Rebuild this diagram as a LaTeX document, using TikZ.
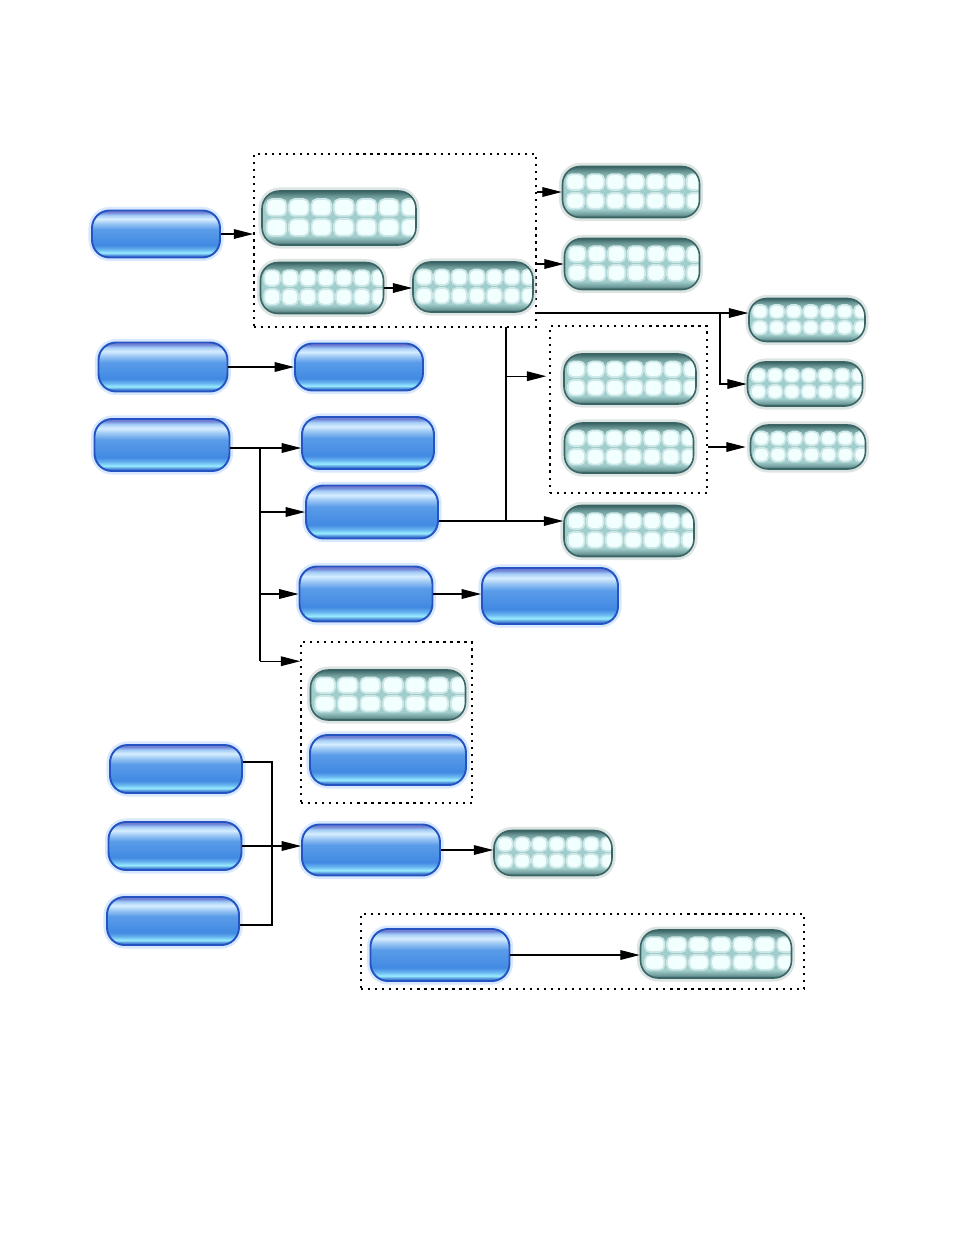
\documentclass[tikz,border=0pt]{standalone}
\usepackage{tikz}
\usetikzlibrary{arrows.meta,positioning,calc}
\definecolor{bpEdge}{HTML}{2454C2}
\definecolor{bpLow}{HTML}{4189E2}
\definecolor{bpCyan}{HTML}{98ECFF}
\definecolor{bpMid}{HTML}{5A9CE9}
\definecolor{bpHigh}{HTML}{D6EDFF}
\definecolor{bpRim}{HTML}{7D76CC}
\definecolor{bpGlow}{HTML}{A8CCFF}
\definecolor{tpEdge}{HTML}{3B6464}
\definecolor{tpDark}{HTML}{6F9B9B}
\definecolor{tpFill}{HTML}{A2CDCD}
\definecolor{tpCell}{HTML}{F2FFFF}
\definecolor{tpGlow}{HTML}{B9C9C9}
\pgfdeclareverticalshading{bluepill}{100bp}{color(0bp)=(bpEdge); color(25bp)=(bpEdge);
  color(27.5bp)=(bpEdge!60!bpCyan); color(30bp)=(bpCyan); color(34bp)=(bpCyan!40!bpLow); color(38bp)=(bpLow);
  color(55bp)=(bpMid); color(61bp)=(bpMid!50!bpHigh); color(66bp)=(bpHigh); color(70bp)=(bpHigh!60!bpMid);
  color(73bp)=(bpRim!60!bpMid); color(75bp)=(bpRim); color(100bp)=(bpRim)}
\pgfdeclareverticalshading{tealpill}{100bp}{color(0bp)=(tpEdge); color(25bp)=(tpEdge);
  color(28bp)=(tpDark); color(33bp)=(tpFill); color(62bp)=(tpFill); color(70bp)=(tpDark); color(75bp)=(tpEdge); color(100bp)=(tpEdge)}
\tikzset{
  wh/.style 2 args={minimum width=#1*0.02cm, minimum height=#2*0.02cm},
  bluepill/.style={rounded corners=10pt, shade, shading=bluepill, draw=bpEdge, line width=1.1pt,
    preaction={draw=bpGlow, line width=4pt, opacity=.45}},
  tealpill/.style={rounded corners=10pt, shade, shading=tealpill, draw=tpEdge, line width=.9pt,
    preaction={draw=tpGlow, line width=4pt, opacity=.5},
    path picture={
      \foreach \i in {0,...,6}
        \foreach \j in {0,1}
          \fill[tpCell, draw=tpCell!55!tpFill, line width=1pt, rounded corners=3pt]
            let \p1=(path picture bounding box.south west),
                \p2=(path picture bounding box.north east),
                \n1={\x2-\x1}, \n2={\y2-\y1} in
            ({\x1+(0.03+0.146*\i)*\n1*1pt}, {\y2-(0.15+0.37*\j)*\n2*1pt})
            rectangle ({\x1+(0.158+0.146*\i)*\n1*1pt}, {\y2-(0.46+0.37*\j)*\n2*1pt});
    }},
  groupbox/.style={draw, line width=.9pt, dash pattern=on 1.3pt off 2.7pt, inner sep=0pt},
  conn/.style={-{Triangle[length=11pt,width=5.5pt]}, line width=.6pt},
  wire/.style={line width=.6pt},
}
\begin{document}
\begin{tikzpicture}[x=0.02cm, y=-0.02cm]
  \useasboundingbox (0,0) rectangle (954,1235);

  % dotted groups
  \node[groupbox, wh={282}{173}] (d1) at (395,240.5) {};
  \node[groupbox, wh={157}{167}] (d2) at (628.5,409.5) {};
  \node[groupbox, wh={171}{161}] (d3) at (386.5,722.5) {};
  \node[groupbox, wh={443}{75}] (d4) at (582.5,951.5) {};

  % blue pills
  \node[bluepill, wh={128}{47}] (b1) at (156,234) {};
  \node[bluepill, wh={129}{49}] (b2) at (163,367) {};
  \node[bluepill, wh={135}{52}] (b3) at (162,445) {};
  \node[bluepill, wh={128}{47}] (b4) at (359,367) {};
  \node[bluepill, wh={132}{52}] (b5) at (368,443) {};
  \node[bluepill, wh={132}{53}] (b6) at (372,512) {};
  \node[bluepill, wh={133}{55}] (b7) at (366,594) {};
  \node[bluepill, wh={136}{56}] (b8) at (550,596) {};
  \node[bluepill, wh={156}{50}] (b9) at (388,760) {};
  \node[bluepill, wh={132}{48}] (b10) at (176,769) {};
  \node[bluepill, wh={133}{48}] (b11) at (175,846) {};
  \node[bluepill, wh={132}{48}] (b12) at (173,921) {};
  \node[bluepill, wh={138}{51}] (b13) at (371,850) {};
  \node[bluepill, wh={139}{52}] (b14) at (440,955) {};

  % teal pills
  \node[tealpill, wh={154}{54}] (t1) at (339,218) {};
  \node[tealpill, wh={123}{51}] (t2) at (322,288) {};
  \node[tealpill, wh={120}{50}] (t3) at (473,287) {};
  \node[tealpill, wh={137}{51}] (t4) at (631,192) {};
  \node[tealpill, wh={135}{51}] (t5) at (632,264) {};
  \node[tealpill, wh={116}{43}] (t6) at (807,320) {};
  \node[tealpill, wh={115}{44}] (t7) at (805,384) {};
  \node[tealpill, wh={115}{44}] (t8) at (808,447) {};
  \node[tealpill, wh={132}{50}] (t9) at (630,379) {};
  \node[tealpill, wh={129}{50}] (t10) at (629,448) {};
  \node[tealpill, wh={130}{51}] (t11) at (629,531) {};
  \node[tealpill, wh={155}{50}] (t12) at (388,695) {};
  \node[tealpill, wh={118}{45}] (t13) at (553,853) {};
  \node[tealpill, wh={151}{48}] (t14) at (716,954) {};

  % junctions
  \coordinate (fork1) at (720,313);
  \coordinate (bus1) at (260,448);
  \coordinate (d3in) at ($(d3.north west)+(0,20)$);
  \coordinate (bus2) at (506,327);
  \coordinate (j2) at (506,521);
  \coordinate (d2in) at ($(d2.north west)+(0,51)$);
  \coordinate (bus3) at (272,846);
  \coordinate (bus3top) at (272,762);
  \coordinate (bus3bot) at (272,925);

  % connectors
  \draw[conn] (b1.east) -- (b1.east -| d1.west);
  \draw[conn] (t2.east) -- (t2.east -| t3.west);
  \draw[conn] (t4.west -| d1.east) -- (t4.west);
  \draw[conn] (t5.west -| d1.east) -- (t5.west);
  \draw[conn] (fork1 -| d1.east) -- (fork1 -| t6.west);
  \draw[conn] (fork1) |- (t7.west);
  \draw[conn] (t8.west -| d2.east) -- ($(t8.west)+(-4,0)$);
  \draw[conn] (b2.east) -- (b2.east -| b4.west);
  \draw[wire] (b3.east |- bus1) -- (bus1) -- (bus1 |- d3in);
  \draw[conn] (bus1) -- (bus1 -| b5.west);
  \draw[conn] (bus1 |- b6.west) -- (b6.west);
  \draw[conn] (bus1 |- b7.west) -- (b7.west);
  \draw[conn] (bus1 |- d3in) -- (d3in);
  \draw[wire] (bus2) -- (j2);
  \draw[conn] (b6.east |- j2) -- (j2 -| t11.west);
  \draw[conn] (bus2 |- d2in) -- ($(d2in)+(-3,0)$);
  \draw[conn] (b7.east) -- (b7.east -| b8.west);
  \draw[wire] (b10.east |- bus3top) -- (bus3top) -- (bus3bot) -- (b12.east |- bus3bot);
  \draw[conn] (b11.east) -- (b11.east -| b13.west);
  \draw[conn] (b13.east) -- (b13.east -| t13.west);
  \draw[conn] (b14.east) -- (b14.east -| t14.west);
\end{tikzpicture}
\end{document}
